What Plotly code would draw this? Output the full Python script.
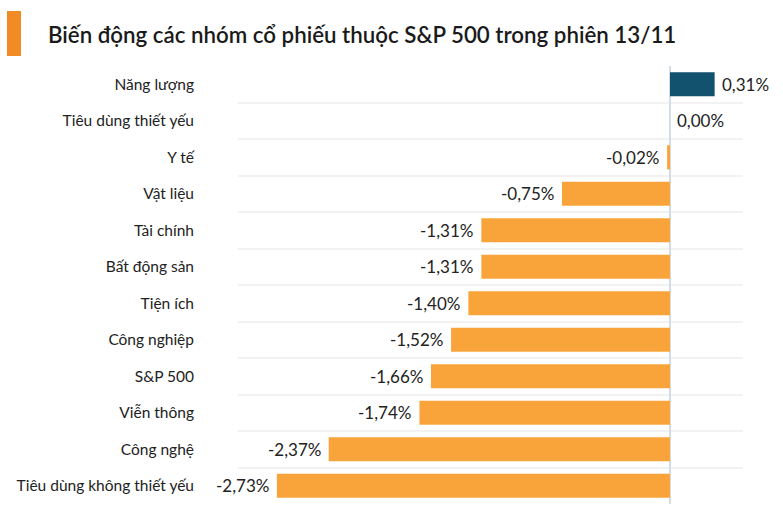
import plotly.graph_objects as go

categories = ["Năng lượng", "Tiêu dùng thiết yếu", "Y tế", "Vật liệu", "Tài chính",
              "Bất động sản", "Tiện ích", "Công nghiệp", "S&P 500", "Viễn thông",
              "Công nghệ", "Tiêu dùng không thiết yếu"]
values = [0.31, 0.00, -0.02, -0.75, -1.31, -1.31, -1.40, -1.52, -1.66, -1.74, -2.37, -2.73]
title = "Biến động các nhóm cổ phiếu thuộc S&P 500 trong phiên 13/11"

W, H = 783, 508
L, R, T, B = 238, 40, 66, 4
pw, ph = W - L - R, H - T - B

labels = [f"{v:.2f}".replace(".", ",") + "%" for v in values]
colors = ["#13526F" if v > 0 else "#F9A43A" for v in values]

fig = go.Figure()
fig.add_trace(go.Bar(
    x=values, y=categories, orientation="h",
    marker=dict(color=colors, line=dict(width=0)),
    hoverinfo="skip", showlegend=False,
))

for cat, v, lab in zip(categories, values, labels):
    fig.add_annotation(
        x=v, y=cat, xref="x", yref="y", text=lab, showarrow=False,
        xanchor="left" if v >= 0 else "right",
        xshift=5 if v >= 0 else -6,
        font=dict(family="Lato", size=17, color="#222222"),
    )

def px_x(p):
    return (p - L) / pw

def px_y(p):
    return (H - B - p) / ph

fig.add_shape(type="rect", xref="paper", yref="paper",
              x0=px_x(7), x1=px_x(21), y0=px_y(56), y1=px_y(11),
              fillcolor="#F28A25", line=dict(width=0))

fig.update_layout(
    width=W, height=H,
    margin=dict(l=L, r=R, t=T, b=B, autoexpand=False),
    paper_bgcolor="white", plot_bgcolor="white",
    bargap=0.34,
    font=dict(family="Lato", color="#222222"),
    title=dict(text=title, xref="container", yref="container",
               x=48 / W, xanchor="left", y=1 - 35 / H, yanchor="middle",
               pad=dict(l=0, r=0, t=0, b=0),
               font=dict(family="Lato", size=22.3, color="#1a1a1a", weight=600)),
    xaxis=dict(range=[-3.0, 0.507], showticklabels=False, showgrid=False,
               zeroline=True, zerolinecolor="#D5DCE4", zerolinewidth=1.5,
               fixedrange=True, automargin=False),
    yaxis=dict(autorange="reversed", type="category", tickson="boundaries",
               showgrid=True, gridcolor="#F2F2F2", gridwidth=1.5,
               ticks="", ticklabelstandoff=43, automargin=False,
               tickfont=dict(family="Lato", size=15.5, color="#222222"),
               showline=False, fixedrange=True),
)

fig.write_html("out.html", config={"displayModeBar": False},
               post_script="document.body.style.margin='0';document.body.style.overflow='hidden';")
